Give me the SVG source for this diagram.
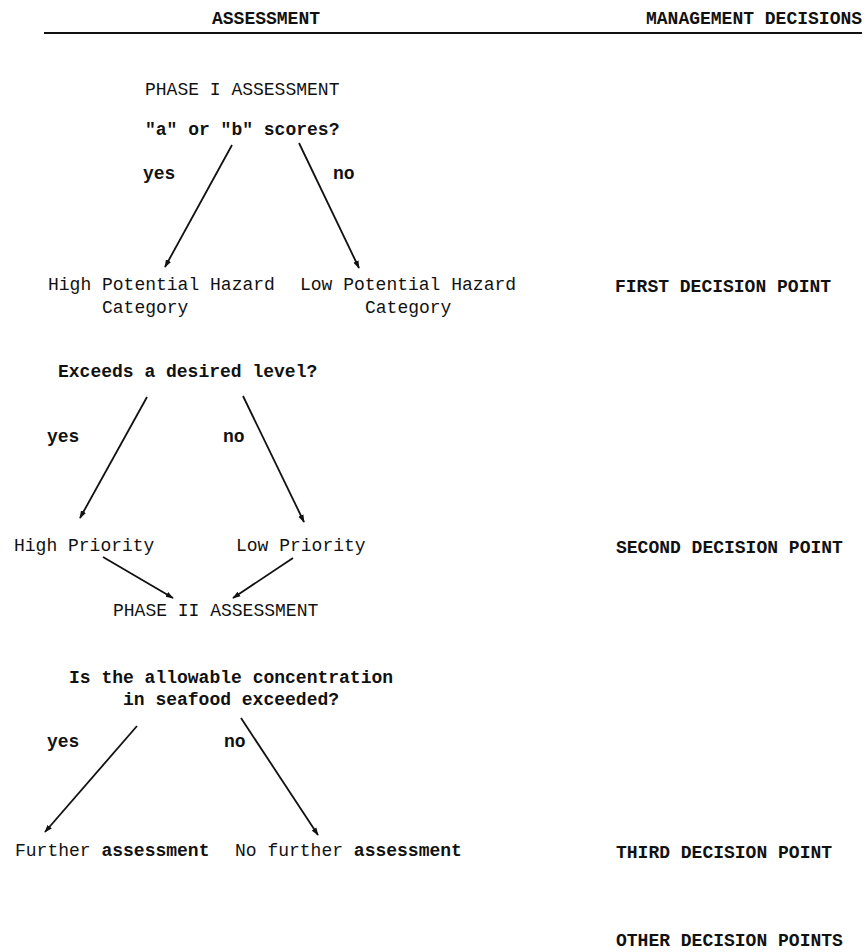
<svg xmlns="http://www.w3.org/2000/svg" width="867" height="952" viewBox="0 0 867 952">
<defs>
<marker id="ah" viewBox="0 0 10 10" refX="9" refY="5" markerWidth="8" markerHeight="8" markerUnits="userSpaceOnUse" orient="auto">
<path d="M0,1.5 L10,5 L0,8.5 Z" fill="#111"/>
</marker>
<style>
text{font-family:"Liberation Mono","Courier New",monospace;font-size:18px;fill:#111}
.b{font-weight:bold}
.c{stroke:#111;stroke-width:1.8;fill:none;marker-end:url(#ah)}
</style>
</defs>
<rect width="867" height="952" fill="#fff"/>
<g id="header">
<text x="212" y="24" class="b">ASSESSMENT</text>
<text x="646" y="24" class="b">MANAGEMENT DECISIONS</text>
<line x1="44" y1="33" x2="862" y2="33" stroke="#111" stroke-width="2"/>
</g>
<g id="phase1"><text x="145" y="95">PHASE I ASSESSMENT</text></g>
<g id="q1"><text x="145" y="135" class="b">"a" or "b" scores?</text></g>
<g id="yes1"><text x="143" y="179" class="b">yes</text></g>
<g id="no1"><text x="333" y="179" class="b">no</text></g>
<g id="highHazard"><text x="48" y="290">High Potential Hazard</text><text x="102" y="313">Category</text></g>
<g id="lowHazard"><text x="300" y="290">Low Potential Hazard</text><text x="365" y="313">Category</text></g>
<g id="first"><text x="615" y="292" class="b">FIRST DECISION POINT</text></g>
<g id="q2"><text x="58" y="377" class="b">Exceeds a desired level?</text></g>
<g id="yes2"><text x="47" y="442" class="b">yes</text></g>
<g id="no2"><text x="223" y="442" class="b">no</text></g>
<g id="highPriority"><text x="14" y="551">High Priority</text></g>
<g id="lowPriority"><text x="236" y="551">Low Priority</text></g>
<g id="second"><text x="616" y="553" class="b">SECOND DECISION POINT</text></g>
<g id="phase2"><text x="113" y="616">PHASE II ASSESSMENT</text></g>
<g id="q3"><text x="69" y="683" class="b">Is the allowable concentration</text><text x="123" y="705" class="b">in seafood exceeded?</text></g>
<g id="yes3"><text x="47" y="747" class="b">yes</text></g>
<g id="no3"><text x="224" y="747" class="b">no</text></g>
<g id="further"><text x="15" y="856">Further <tspan class="b">assessment</tspan></text></g>
<g id="noFurther"><text x="235" y="856">No further <tspan class="b">assessment</tspan></text></g>
<g id="third"><text x="616" y="858" class="b">THIRD DECISION POINT</text></g>
<g id="other"><text x="616" y="946" class="b">OTHER DECISION POINTS</text></g>
<g id="connectors">
<line class="c" x1="232" y1="145" x2="165" y2="267"/>
<line class="c" x1="299" y1="143" x2="359" y2="268"/>
<line class="c" x1="147" y1="397" x2="80" y2="518"/>
<line class="c" x1="243" y1="396" x2="304" y2="522"/>
<line class="c" x1="103" y1="557" x2="173" y2="598"/>
<line class="c" x1="293" y1="558" x2="233" y2="598"/>
<line class="c" x1="137" y1="726" x2="45" y2="832"/>
<line class="c" x1="241" y1="718" x2="318" y2="835"/>
</g>
</svg>
